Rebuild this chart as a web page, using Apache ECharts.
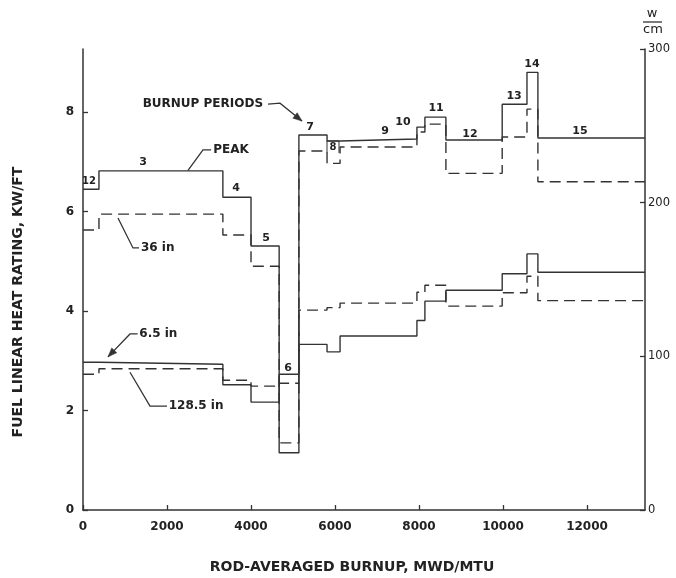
<!DOCTYPE html>
<html>
<head>
<meta charset="utf-8">
<script src="https://cdn.jsdelivr.net/npm/echarts@6/dist/echarts.min.js"></script>
<style>
  html, body { margin: 0; padding: 0; background: #fff; }
  #chart { width: 676px; height: 578px; }
</style>
</head>
<body>
<div id="chart"></div>
<script>
// Burnup period boundaries (MWd/MTU); period n runs from edge[n] to edge[n+1]
const burnupEdges = [0, 380, 3330, 4000, 4670, 5140, 5810, 6120, 7950, 8140, 8640, 9980, 10570, 10830, 13380];
const periodNames = ['12', '3', '4', '5', '6', '7', '8', '9', '10', '11', '12', '13', '14', '15'];

// Linear heat rating (kW/ft) per burnup period
const peakRating   = [6.45, 6.82, 6.29, 5.31, 1.15, 7.54, 7.42, 7.46, 7.70, 7.90, 7.44, 8.16, 8.80, 7.48];
const rating36in   = [5.63, 5.95, 5.53, 4.90, 1.35, 7.22, 6.97, 7.30, 7.60, 7.76, 6.77, 7.50, 8.06, 6.60];
const rating6p5in  = [2.97, 2.93, 2.52, 2.17, 2.73, 3.33, 3.18, 3.50, 3.81, 4.20, 4.42, 4.75, 5.15, 4.78];
const rating128in  = [2.73, 2.84, 2.61, 2.49, 2.55, 4.02, 4.07, 4.16, 4.38, 4.52, 4.10, 4.37, 4.70, 4.21];

// Axis ranges: 300 W/cm corresponds to the top of the kW/ft scale
const xTicks = [0, 2000, 4000, 6000, 8000, 10000, 12000];
const leftTicks = [0, 2, 4, 6, 8];
const rightTicks = [0, 100, 200, 300];
const kwPerFtMax = 9.27;

// Where each period number is written (burnup, kW/ft)
const periodLabelPos = [
  [143, 6.61], [1429, 7.00], [3643, 6.47], [4357, 5.47], [4881, 2.85], [5405, 7.70],
  [5952, 7.30], [7190, 7.62], [7619, 7.80], [8405, 8.08], [9214, 7.56], [10262, 8.32],
  [10690, 8.96], [11833, 7.62]
];

function stepData(values) {
  const pts = values.map((v, i) => [burnupEdges[i], v]);
  pts.push([burnupEdges[burnupEdges.length - 1], values[values.length - 1]]);
  return pts;
}

const ink = '#333';
const textInk = '#222';
const font = '"DejaVu Sans", Verdana, sans-serif';

function ratingSeries(name, values, dashed) {
  return {
    name: name,
    type: 'line',
    step: 'end',
    symbol: 'none',
    silent: true,
    data: stepData(values),
    lineStyle: { color: ink, width: 1.4, type: dashed ? [11, 6] : 'solid' },
    z: 3
  };
}

const chart = echarts.init(document.getElementById('chart'), null, { renderer: 'canvas' });

chart.setOption({
  animation: false,
  backgroundColor: '#fff',
  grid: { left: 83, right: 31, top: 49, bottom: 68 },
  xAxis: {
    type: 'value',
    min: 0,
    max: burnupEdges[burnupEdges.length - 1],
    interval: 2000,
    axisLine: { show: true, lineStyle: { color: ink, width: 1.5 } },
    axisTick: { show: true, inside: true, length: 5, lineStyle: { color: ink, width: 1.3 } },
    axisLabel: {
      color: textInk, fontFamily: font, fontWeight: 'bold', fontSize: 12, margin: 11,
      showMaxLabel: false,
      formatter: v => xTicks.includes(v) ? String(v) : ''
    },
    splitLine: { show: false }
  },
  yAxis: [
    {
      type: 'value',
      min: 0,
      max: kwPerFtMax,
      interval: 2,
      position: 'left',
      axisLine: { show: true, lineStyle: { color: ink, width: 1.5 } },
      axisTick: { show: true, inside: true, length: 5, lineStyle: { color: ink, width: 1.3 } },
      axisLabel: {
        color: textInk, fontFamily: font, fontWeight: 'bold', fontSize: 12, margin: 9,
        showMaxLabel: false,
        formatter: v => leftTicks.includes(v) ? String(v) : ''
      },
      splitLine: { show: false }
    },
    {
      type: 'value',
      min: 0,
      max: 300,
      interval: 100,
      position: 'right',
      axisLine: { show: true, onZero: false, lineStyle: { color: ink, width: 1.5 } },
      axisTick: { show: true, inside: true, length: 5, lineStyle: { color: ink, width: 1.3 } },
      axisLabel: {
        color: textInk, fontFamily: font, fontSize: 11.5, margin: 3,
        formatter: v => rightTicks.includes(v) ? String(v) : ''
      },
      splitLine: { show: false }
    }
  ],
  series: [
    ratingSeries('PEAK', peakRating, false),
    ratingSeries('36 in', rating36in, true),
    ratingSeries('6.5 in', rating6p5in, false),
    ratingSeries('128.5 in', rating128in, true)
  ]
});

// Annotations, placed in data space and converted to pixels
const px = p => chart.convertToPixel({ gridIndex: 0 }, p);

function polyline(points, arrow) {
  const pts = points.map(px);
  const els = [{
    type: 'polyline',
    shape: { points: pts },
    style: { stroke: ink, lineWidth: 1.3, fill: null },
    z: 10
  }];
  if (arrow) {
    const a = pts[pts.length - 1], b = pts[pts.length - 2];
    const ang = Math.atan2(a[1] - b[1], a[0] - b[0]);
    const L = 9, W = 3.5;
    const back = [a[0] - L * Math.cos(ang), a[1] - L * Math.sin(ang)];
    const nx = -Math.sin(ang), ny = Math.cos(ang);
    els.push({
      type: 'polygon',
      shape: { points: [a, [back[0] + W * nx, back[1] + W * ny], [back[0] - W * nx, back[1] - W * ny]] },
      style: { fill: ink, stroke: ink, lineWidth: 0.5 },
      z: 10
    });
  }
  return els;
}

function label(text, p, opts) {
  const q = px(p);
  return {
    type: 'text',
    x: q[0], y: q[1],
    style: Object.assign({
      text: text, fill: textInk, font: 'bold 12px ' + font,
      textAlign: 'center', textVerticalAlign: 'middle'
    }, opts || {}),
    z: 11
  };
}

const graphics = [];

periodNames.forEach((n, i) => {
  const isSmall = (i === 0 || i === 6);
  graphics.push(label(n, periodLabelPos[i], { font: (isSmall ? 'bold 10px ' : 'bold 11px ') + font }));
});
// Box drawn round period 8's number
(function () {
  const c = px(periodLabelPos[6]);
  graphics.push({
    type: 'polyline',
    shape: { points: [[c[0] - 6, c[1] + 6], [c[0] - 6, c[1] - 6], [c[0] + 6, c[1] - 6], [c[0] + 6, c[1] + 6]] },
    style: { stroke: ink, lineWidth: 1, fill: null }, z: 10
  });
})();

graphics.push(label('BURNUP PERIODS', [1420, 8.16], { textAlign: 'left' }));
graphics.push(...polyline([[4405, 8.16], [4690, 8.18], [5214, 7.82]], true));

graphics.push(label('PEAK', [3100, 7.24], { textAlign: 'left' }));
graphics.push(...polyline([[3050, 7.24], [2857, 7.24], [2500, 6.83]], false));

graphics.push(label('36 in', [1380, 5.27], { textAlign: 'left' }));
graphics.push(...polyline([[833, 5.87], [1190, 5.27], [1333, 5.27]], false));

graphics.push(label('6.5 in', [1340, 3.54], { textAlign: 'left' }));
graphics.push(...polyline([[1300, 3.54], [1119, 3.54], [595, 3.08]], true));

graphics.push(label('128.5 in', [2040, 2.09], { textAlign: 'left' }));
graphics.push(...polyline([[1119, 2.77], [1595, 2.09], [2000, 2.09]], false));

// Unit heading of the right-hand scale
graphics.push({ type: 'text', x: 652, y: 14, style: { text: 'w', fill: textInk, font: '13px ' + font, textAlign: 'center', textVerticalAlign: 'middle' }, z: 11 });
graphics.push({ type: 'line', shape: { x1: 643, y1: 22, x2: 662, y2: 22 }, style: { stroke: ink, lineWidth: 1.3 }, z: 11 });
graphics.push({ type: 'text', x: 653, y: 30, style: { text: 'cm', fill: textInk, font: '13px ' + font, textAlign: 'center', textVerticalAlign: 'middle' }, z: 11 });

// Axis titles
graphics.push({
  type: 'text', x: 18, y: 302, rotation: Math.PI / 2,
  style: { text: 'FUEL LINEAR HEAT RATING, KW/FT', fill: textInk, font: 'bold 14px ' + font, textAlign: 'center', textVerticalAlign: 'middle' },
  z: 11
});
graphics.push({
  type: 'text', x: 352, y: 567,
  style: { text: 'ROD-AVERAGED BURNUP, MWD/MTU', fill: textInk, font: 'bold 14px ' + font, textAlign: 'center', textVerticalAlign: 'middle' },
  z: 11
});

chart.setOption({ graphic: graphics });
</script>
</body>
</html>
